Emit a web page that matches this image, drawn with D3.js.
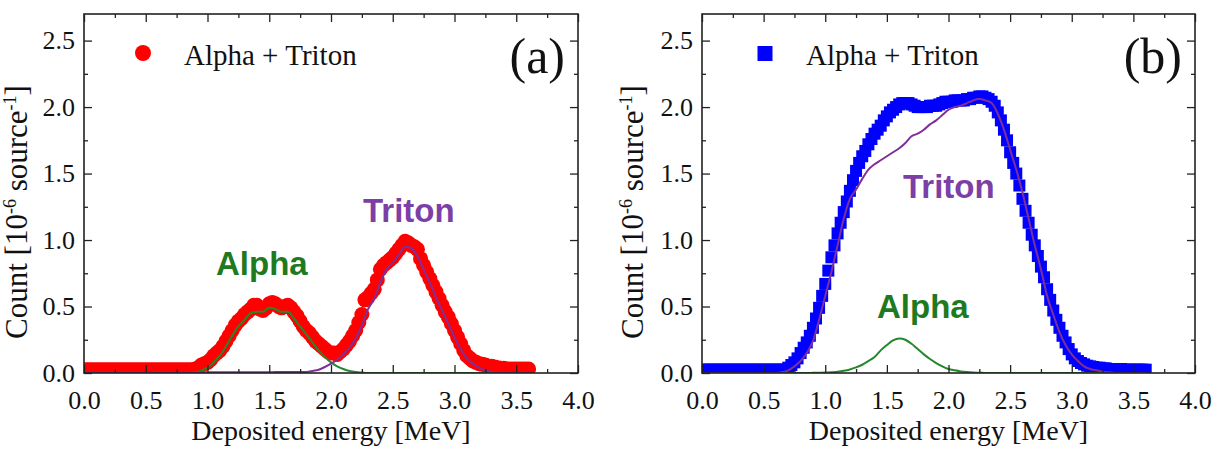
<!DOCTYPE html>
<html>
<head>
<meta charset="utf-8">
<script src="https://cdn.jsdelivr.net/npm/d3@7"></script>
<style>
  body { margin: 0; background: #fff; }
</style>
</head>
<body>
<svg id="chart" width="1219" height="459"></svg>
<script>
// histogram bins are 0.025 MeV wide, fit curves sampled every 0.05 MeV
const binStep = 0.025;
const fitStep = 0.05;

// panel (a): alpha + triton, red circles
const countsA = [
  0.025, 0.025, 0.025, 0.025, 0.025, 0.025, 0.025, 0.025, 0.025, 0.025,
  0.025, 0.025, 0.025, 0.025, 0.025, 0.025, 0.025, 0.025, 0.025, 0.025,
  0.025, 0.025, 0.025, 0.025, 0.025, 0.025, 0.025, 0.025, 0.025, 0.025,
  0.025, 0.025, 0.025, 0.025, 0.025, 0.025,
  0.03, 0.04, 0.06, 0.07, 0.08, 0.10, 0.13, 0.15, 0.17, 0.20,
  0.24, 0.28, 0.32, 0.36, 0.39, 0.41, 0.44, 0.46, 0.48, 0.51,
  0.51, 0.48, 0.47, 0.49, 0.52, 0.53, 0.52, 0.50, 0.49, 0.50,
  0.51, 0.49, 0.46, 0.43, 0.39, 0.35, 0.32, 0.30, 0.27, 0.24,
  0.22, 0.20, 0.18, 0.16, 0.15, 0.15, 0.14, 0.16, 0.18, 0.21,
  0.24, 0.28, 0.32, 0.38, 0.44, 0.55, 0.57, 0.60, 0.63, 0.70,
  0.78, 0.81, 0.83, 0.85, 0.87, 0.90, 0.93, 0.96, 0.99, 0.98,
  0.96, 0.95, 0.93, 0.86, 0.81, 0.76, 0.71, 0.66, 0.61, 0.56,
  0.51, 0.46, 0.42, 0.37, 0.32, 0.27, 0.22, 0.17, 0.13, 0.11,
  0.09, 0.08, 0.07, 0.065, 0.06, 0.05, 0.05, 0.045, 0.04, 0.035,
  0.035, 0.03, 0.03, 0.03, 0.03, 0.03, 0.03, 0.03, 0.03
];
const alphaFitA = [
  0, 0, 0, 0, 0, 0, 0, 0, 0, 0, 0, 0, 0, 0, 0, 0, 0, 0,
  0.005, 0.015, 0.04, 0.08, 0.13, 0.20, 0.28, 0.35, 0.40, 0.45,
  0.46, 0.46, 0.49, 0.48, 0.46, 0.46, 0.41, 0.35, 0.29, 0.23,
  0.17, 0.12, 0.08, 0.05, 0.03, 0.015, 0.007, 0.003,
  0, 0, 0, 0, 0, 0, 0, 0, 0, 0, 0, 0, 0, 0, 0, 0, 0, 0, 0, 0, 0, 0, 0, 0, 0, 0, 0
];
const tritonFitA = [
  0, 0, 0, 0, 0, 0, 0, 0, 0, 0, 0, 0, 0, 0, 0, 0, 0, 0,
  0.002, 0.005, 0.005, 0.005, 0.005, 0.005, 0.005, 0.005, 0.005, 0.005, 0.005, 0.005, 0.005,
  0.008, 0.008, 0.008, 0.008, 0.008, 0.008,
  0.015, 0.025, 0.045, 0.07, 0.10, 0.14, 0.19, 0.26, 0.36, 0.48,
  0.56, 0.68, 0.78, 0.83, 0.89, 0.95, 0.94, 0.88, 0.78, 0.68,
  0.57, 0.47, 0.37, 0.27, 0.18, 0.11, 0.07, 0.04, 0.02, 0.01, 0.005,
  0, 0, 0, 0, 0
];

// panel (b): alpha + triton, blue squares
const countsB = [
  0.025, 0.025, 0.025, 0.025, 0.025, 0.025, 0.025, 0.025, 0.025, 0.025,
  0.025, 0.025, 0.025, 0.025, 0.025, 0.025, 0.025, 0.025, 0.025, 0.025,
  0.025, 0.025, 0.025, 0.025, 0.025, 0.025, 0.025, 0.025,
  0.04, 0.06, 0.08, 0.11, 0.15, 0.19, 0.23, 0.28, 0.34, 0.41,
  0.49, 0.58, 0.67, 0.77, 0.87, 0.96, 1.05, 1.13, 1.21, 1.29,
  1.37, 1.45, 1.52, 1.58, 1.63, 1.67, 1.72, 1.76, 1.80, 1.83,
  1.86, 1.90, 1.93, 1.96, 1.98, 2.00, 2.02, 2.03, 2.03, 2.03,
  2.02, 2.01, 2.00, 2.00, 2.00, 2.00, 2.01, 2.01, 2.01, 2.02,
  2.03, 2.04, 2.04, 2.04, 2.05, 2.05, 2.05, 2.05, 2.06, 2.06,
  2.07, 2.07, 2.08, 2.08, 2.07, 2.06, 2.04, 2.01, 1.96, 1.90,
  1.83, 1.75, 1.66, 1.58, 1.50, 1.41, 1.31, 1.22, 1.13, 1.04,
  0.96, 0.88, 0.80, 0.72, 0.63, 0.55, 0.47, 0.40, 0.34, 0.28,
  0.23, 0.18, 0.14, 0.11, 0.09, 0.075, 0.065, 0.055, 0.05, 0.045,
  0.04, 0.04, 0.035, 0.035, 0.03, 0.03, 0.03, 0.03, 0.03, 0.025,
  0.025, 0.025, 0.025, 0.025, 0.025, 0.025, 0.025
];
const alphaFitB = [
  0, 0, 0, 0, 0, 0, 0, 0, 0, 0, 0, 0, 0, 0, 0, 0, 0, 0,
  0.001, 0.002, 0.003, 0.006, 0.01, 0.017, 0.027, 0.042, 0.062, 0.09,
  0.12, 0.17, 0.21, 0.245, 0.26, 0.25, 0.22, 0.18, 0.14, 0.105,
  0.075, 0.05, 0.03, 0.02, 0.012, 0.007, 0.004, 0.002,
  0, 0, 0, 0, 0, 0, 0, 0, 0, 0, 0, 0, 0, 0, 0, 0, 0, 0, 0, 0, 0, 0, 0, 0, 0, 0, 0
];
const tritonFitB = [
  0, 0, 0, 0, 0, 0, 0, 0, 0, 0, 0, 0, 0,
  0.005, 0.02, 0.05, 0.09, 0.15, 0.24, 0.40, 0.58, 0.76, 0.96,
  1.16, 1.31, 1.38, 1.46, 1.53, 1.57, 1.60, 1.63, 1.66, 1.69,
  1.73, 1.78, 1.80, 1.83, 1.87, 1.90, 1.94, 1.98, 2.00, 2.01,
  2.03, 2.05, 2.06, 2.05, 2.03, 1.95, 1.83, 1.68, 1.53, 1.36,
  1.16, 0.96, 0.78, 0.58, 0.44, 0.31, 0.21, 0.14, 0.09, 0.05,
  0.03, 0.02, 0.01, 0.005,
  0, 0, 0, 0, 0, 0
];

const xMajor = [0, 0.5, 1.0, 1.5, 2.0, 2.5, 3.0, 3.5, 4.0];
const xMinor = [0.25, 0.75, 1.25, 1.75, 2.25, 2.75, 3.25, 3.75];
const yMajor = [0, 0.5, 1.0, 1.5, 2.0, 2.5];
const yMinor = [0.25, 0.75, 1.25, 1.75, 2.25];

const serif = "'Liberation Serif', 'Times New Roman', serif";
const sans = "'Liberation Sans', Arial, sans-serif";
const green = "#22882a";
const purple = "#7e2f9a";

const svg = d3.select("#chart");

function drawPanel(p) {
  const top = 14, bottom = 373;
  const x = d3.scaleLinear().domain([0, 4]).range([p.left, p.right]);
  const y = d3.scaleLinear().domain([0, 2.7]).range([bottom, top]);
  const g = svg.append("g");

  g.append("clipPath").attr("id", "clip-" + p.id)
    .append("rect")
    .attr("x", p.left).attr("y", top)
    .attr("width", p.right - p.left).attr("height", bottom - top);

  const plot = g.append("g").attr("clip-path", `url(#clip-${p.id})`);

  const points = p.counts.map((v, i) => ({ e: i * binStep, v: v }));
  if (p.marker === "circle") {
    plot.selectAll(".pt").data(points).enter().append("circle")
      .attr("class", "pt")
      .attr("cx", d => x(d.e))
      .attr("cy", d => y(d.v))
      .attr("r", 7.5)
      .attr("fill", p.color);
  } else {
    plot.selectAll(".pt").data(points).enter().append("rect")
      .attr("class", "pt")
      .attr("x", d => x(d.e) - 6)
      .attr("y", d => y(d.v) - 6)
      .attr("width", 12).attr("height", 12)
      .attr("fill", p.color);
  }

  const line = d3.line()
    .x((d, i) => x(i * fitStep))
    .y(d => y(d))
    .curve(d3.curveMonotoneX);

  plot.append("path").datum(p.alpha)
    .attr("d", line).attr("fill", "none")
    .attr("stroke", green).attr("stroke-width", 2);
  plot.append("path").datum(p.triton)
    .attr("d", line).attr("fill", "none")
    .attr("stroke", purple).attr("stroke-width", 2);

  // ticks point inwards on all four sides
  const axes = [
    [d3.axisBottom(x), `translate(0,${bottom})`, xMajor, xMinor, true],
    [d3.axisTop(x), `translate(0,${top})`, xMajor, xMinor, false],
    [d3.axisLeft(y), `translate(${p.left},0)`, yMajor, yMinor, true],
    [d3.axisRight(y), `translate(${p.right},0)`, yMajor, yMinor, false]
  ];
  axes.forEach(([axis, tr, major, minor, labels]) => {
    const isX = major === xMajor;
    g.append("g").attr("transform", tr)
      .call(axis.tickValues(minor).tickSizeInner(-4).tickSizeOuter(0).tickFormat(""))
      .call(s => s.select(".domain").remove());
    const a = g.append("g").attr("transform", tr)
      .call(axis.tickValues(major).tickSizeInner(-8).tickSizeOuter(0)
        .tickPadding(isX ? 18 : 9)
        .tickFormat(labels ? d3.format(".1f") : ""));
    a.select(".domain").remove();
    a.selectAll("text").attr("font-family", serif).attr("font-size", 26).attr("fill", "#111");
  });
  g.selectAll(".tick line").attr("stroke", "#222").attr("stroke-width", 1.3);

  g.append("rect")
    .attr("x", p.left).attr("y", top)
    .attr("width", p.right - p.left).attr("height", bottom - top)
    .attr("fill", "none").attr("stroke", "#222").attr("stroke-width", 1.6);

  // axis titles
  g.append("text")
    .attr("x", (p.left + p.right) / 2).attr("y", 440)
    .attr("text-anchor", "middle")
    .attr("font-family", serif).attr("font-size", 28).attr("fill", "#111")
    .text("Deposited energy [MeV]");

  const yt = g.append("text")
    .attr("transform", `translate(${p.yTitleX},212) rotate(-90)`)
    .attr("text-anchor", "middle")
    .attr("font-family", serif).attr("font-size", 31).attr("fill", "#111");
  yt.append("tspan").text("Count [10");
  yt.append("tspan").attr("dy", -11).attr("font-size", 18).text("-6");
  yt.append("tspan").attr("dy", 11).text(" source");
  yt.append("tspan").attr("dy", -11).attr("font-size", 18).text("-1");
  yt.append("tspan").attr("dy", 11).text("]");

  // legend
  if (p.marker === "circle") {
    g.append("circle").attr("cx", p.legendX).attr("cy", 53).attr("r", 8).attr("fill", p.color);
  } else {
    g.append("rect").attr("x", p.legendX - 7.5).attr("y", 46).attr("width", 15).attr("height", 15).attr("fill", p.color);
  }
  g.append("text")
    .attr("x", p.legendX + 41).attr("y", 65)
    .attr("font-family", serif).attr("font-size", 29).attr("fill", "#111")
    .text("Alpha + Triton");

  g.append("text")
    .attr("x", p.right - 13).attr("y", 73)
    .attr("text-anchor", "end")
    .attr("font-family", serif).attr("font-size", 50).attr("fill", "#111")
    .text(p.tag);

  // curve labels
  g.append("text")
    .attr("x", p.alphaLabel[0]).attr("y", p.alphaLabel[1])
    .attr("font-family", sans).attr("font-weight", "bold").attr("font-size", 33)
    .attr("fill", "#1f7a1f").text("Alpha");
  g.append("text")
    .attr("x", p.tritonLabel[0]).attr("y", p.tritonLabel[1])
    .attr("font-family", sans).attr("font-weight", "bold").attr("font-size", 33)
    .attr("fill", "#7b3fa6").text("Triton");
}

drawPanel({
  id: "a", left: 84, right: 578, tag: "(a)",
  counts: countsA, alpha: alphaFitA, triton: tritonFitA,
  marker: "circle", color: "#ff0000", legendX: 143, yTitleX: 27,
  alphaLabel: [216, 275], tritonLabel: [363, 222]
});
drawPanel({
  id: "b", left: 702, right: 1195, tag: "(b)",
  counts: countsB, alpha: alphaFitB, triton: tritonFitB,
  marker: "square", color: "#0000ff", legendX: 765, yTitleX: 643,
  alphaLabel: [877, 318], tritonLabel: [903, 198]
});
</script>
</body>
</html>
